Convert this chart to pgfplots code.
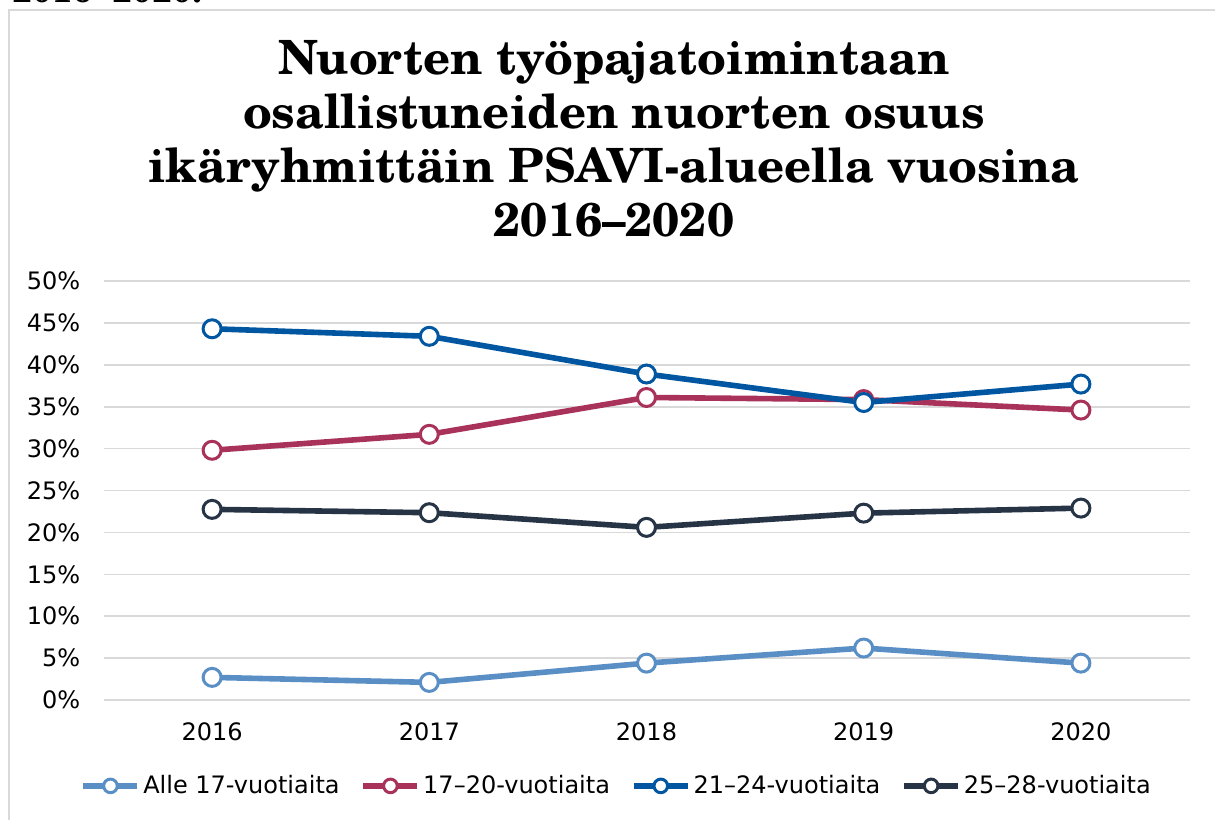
\documentclass[border=0pt]{standalone}
\usepackage{fontspec}
\setmainfont{DejaVu Sans}
\newfontfamily\titlefont{TeX Gyre Schola}
\newfontfamily\docfont{Liberation Serif}
\usepackage{pgfplots}
\pgfplotsset{compat=1.18}
\definecolor{cA}{RGB}{90,143,197}
\definecolor{cB}{RGB}{168,50,90}
\definecolor{cC}{RGB}{0,86,160}
\definecolor{cD}{RGB}{38,52,69}
\definecolor{gridgray}{RGB}{217,217,217}
\pgfplotsset{ser/.style={color=#1, line width=2.8bp, mark=*, mark size=4.5bp,
  mark options={fill=white, draw=#1, line width=1.5bp, solid}}}
\begin{document}
\begin{tikzpicture}
\path[use as bounding box, clip] (0bp,0bp) rectangle (607.5bp,410bp);
\draw[gridgray, line width=1bp] (4.5bp,-5bp) -- (4.5bp,405bp) -- (620bp,405bp);
\node[font=\docfont\bfseries\fontsize{20bp}{24bp}\selectfont, anchor=base west, inner sep=0pt] at (6bp,408.6bp) {2016–2020.};
\begin{scope}[every node/.style={font=\titlefont\bfseries\fontsize{23.6bp}{27bp}\selectfont, anchor=base, inner sep=0pt}]
\node at (307bp,372.5bp) {Nuorten työpajatoimintaan};
\node at (307bp,345.5bp) {osallistuneiden nuorten osuus};
\node at (307bp,318.5bp) {ikäryhmittäin PSAVI-alueella vuosina};
\node at (307bp,291.65bp) {2016–2020};
\end{scope}
\begin{axis}[
  at={(51.75bp,60bp)}, anchor=south west,
  scale only axis, width=543bp, height=209.5bp,
  xmin=-0.5, xmax=4.5, ymin=0, ymax=50,
  axis line style={draw=none},
  major tick length=0pt,
  ymajorgrids,
  grid style={gridgray, line width=0.8bp},
  xtick={0,1,2,3,4},
  xticklabels={2016,2017,2018,2019,2020},
  ytick={0,5,10,15,20,25,30,35,40,45,50},
  yticklabels={0\%,5\%,10\%,15\%,20\%,25\%,30\%,35\%,40\%,45\%,50\%},
  ticklabel style={font=\fontsize{12bp}{14bp}\selectfont},
  yticklabel style={anchor=east, inner sep=0pt, xshift=-11.5bp},
  xticklabel style={anchor=north, inner sep=0pt, yshift=-11bp},
  clip=false,
  legend columns=4,
  legend style={draw=none, fill=none, at={(rel axis cs:0.473,-0.205)}, anchor=center,
    font=\fontsize{12bp}{14bp}\selectfont,
    /tikz/every even column/.append style={column sep=9bp},
    nodes={inner xsep=1.5bp, inner ysep=1bp}},
  legend image code/.code={
    \draw[mark repeat=2, mark phase=2, #1, mark size=3.4bp]
      plot coordinates {(0bp,0bp) (13.5bp,0bp) (27bp,0bp)};
  },
]
\addplot[ser=cA] coordinates {(0,2.7) (1,2.1) (2,4.4) (3,6.2) (4,4.4)};
\addlegendentry{Alle 17-vuotiaita}
\addplot[ser=cB] coordinates {(0,29.8) (1,31.7) (2,36.1) (3,35.85) (4,34.6)};
\addlegendentry{17–20-vuotiaita}
\addplot[ser=cC] coordinates {(0,44.3) (1,43.4) (2,38.9) (3,35.5) (4,37.7)};
\addlegendentry{21–24-vuotiaita}
\addplot[ser=cD] coordinates {(0,22.75) (1,22.35) (2,20.6) (3,22.3) (4,22.9)};
\addlegendentry{25–28-vuotiaita}
\end{axis}
\end{tikzpicture}
\end{document}
